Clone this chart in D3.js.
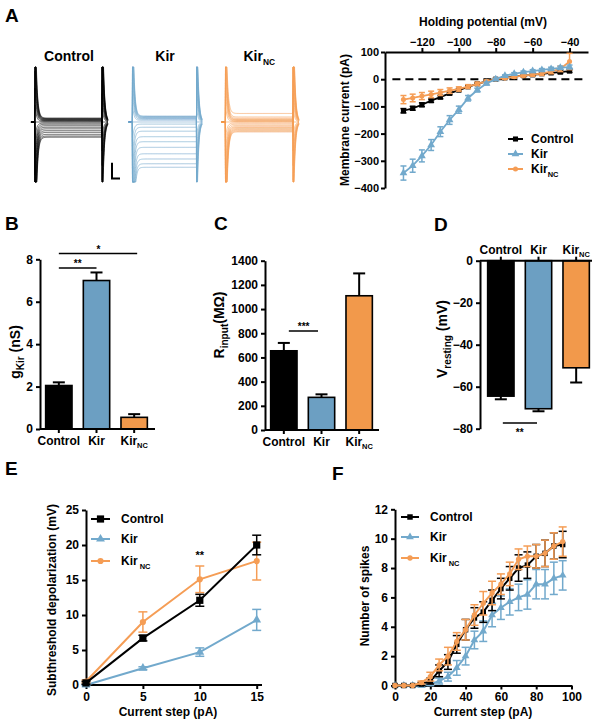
<!DOCTYPE html>
<html><head><meta charset="utf-8">
<script src="https://cdn.jsdelivr.net/npm/d3@7"></script>
<style>
body{margin:0;background:#fff}
svg{display:block;font-family:"Liberation Sans",Arial,Helvetica,sans-serif;font-weight:bold}
</style></head><body>
<svg id="fig" width="602" height="727"></svg>
<script>
// ---------------- DATA ----------------
const groups = ["Control", "Kir", "KirNC"];
// Panel A: I-V
const ivVoltage = [-130,-125,-120,-115,-110,-105,-100,-95,-90,-85,-80,-75,-70,-65,-60,-55,-50,-45,-40];
const ivControl    = [-116,-107,-94,-79,-66,-52,-40,-28,-17,-8,0,5,10,13,16,20,23,26,30];
const ivControlErr = [8,7,7,6,6,5,5,4,4,3,3,3,3,3,4,4,4,5,5];
const ivKir        = [-345,-318,-282,-242,-193,-150,-112,-70,-40,-16,0,13,20,26,30,34,38,42,45];
const ivKirErr     = [26,24,22,20,18,16,13,10,7,5,3,3,4,4,5,5,6,6,7];
const ivKirNC      = [-75,-69,-62,-56,-49,-42,-36,-27,-17,-8,0,4,9,13,17,21,28,38,65];
const ivKirNCErr   = [15,14,13,12,11,10,8,7,6,5,4,4,5,5,6,7,8,10,30];
const ivTicksX = [-120,-100,-80,-60,-40];
const ivTicksY = [100,0,-100,-200,-300,-400];
const holdingPotential = -80;
// Panel B
const gKir    = [2.05, 7.0, 0.55];
const gKirErr = [0.15, 0.38, 0.15];
const gTicks  = [0,2,4,6,8];
// Panel C
const rInput    = [655, 270, 1110];
const rInputErr = [65, 25, 185];
const rTicks    = [0,200,400,600,800,1000,1200,1400];
// Panel D
const vRest    = [-64.5, -70.5, -51];
const vRestErr = [1.5, 1.2, 7];
const vTicks   = [0,-20,-40,-60,-80];
// Panel E
const eSteps      = [0,5,10,15];
const eControl    = [0.3, 6.7, 12.1, 20.0];
const eControlErr = [0.2, 0.4, 0.85, 1.4];
const eKir        = [0.0, 2.4, 4.7, 9.3];
const eKirErr     = [0.1, 0.2, 0.6, 1.5];
const eKirNC      = [0.5, 9.0, 15.1, 17.7];
const eKirNCErr   = [0.2, 1.45, 1.9, 2.7];
const eTicksX = [0,5,10,15];
const eTicksY = [0,5,10,15,20,25];
// Panel F
const fSteps      = [0,5,10,15,20,25,30,35,40,45,50,55,60,65,70,75,80,85,90,95];
const fControl    = [0,0,0,0.1,0.3,1.0,1.6,2.8,3.8,4.6,5.0,5.8,6.6,7.3,8.0,8.2,8.8,9.0,9.5,9.6];
const fControlErr = [0,0,0,0.1,0.2,0.4,0.5,0.6,0.7,0.7,0.7,0.7,0.7,0.8,0.9,0.9,0.8,0.9,0.9,0.9];
const fKir        = [0,0,0,0,0.1,0.3,0.6,1.2,2.0,3.1,3.7,4.8,5.3,5.7,6.0,6.2,6.9,6.9,7.3,7.5];
const fKirErr     = [0,0,0,0.1,0.1,0.2,0.3,0.5,0.6,0.6,0.7,0.8,0.8,0.9,0.9,1.0,1.0,1.0,1.1,1.0];
const fKirNC      = [0,0,0,0.2,0.6,1.4,2.0,3.0,3.8,4.8,5.6,6.3,6.9,7.6,8.6,8.8,8.8,9.0,9.5,9.8];
const fKirNCErr   = [0,0,0,0.1,0.3,0.4,0.6,0.6,0.7,0.7,0.8,0.8,0.7,0.8,0.7,0.7,0.8,0.9,0.9,1.0];
const fTicksX = [0,20,40,60,80,100];
const fTicksY = [0,2,4,6,8,10,12];

// ---------------- STYLE ----------------
const FONT = '"Liberation Sans", Arial, Helvetica, sans-serif';
const C_BLACK = "#000000", C_BLUE = "#6c9fc2", C_ORANGE = "#f2994b";
const C_BLUE_L = "#72a9cc", C_ORANGE_L = "#f59d55";
const colors = {Control: C_BLACK, Kir: C_BLUE, KirNC: C_ORANGE};
const fmtInt = d3.format("d");

const svg = d3.select("#fig");

function styleAxis(g, fs) {
  g.attr("font-family", FONT).attr("font-size", fs).attr("font-weight", "bold");
  g.select(".domain").attr("stroke", "#000").attr("stroke-width", 2);
  g.selectAll(".tick line").attr("stroke", "#000").attr("stroke-width", 2);
  g.selectAll(".tick text").attr("fill", "#000");
}
function richText(parent, x, y, parts, o = {}) {
  const size = o.size || 12, sub = o.subScale || 0.68;
  const t = parent.append("text").attr("font-size", size).attr("font-weight", "bold")
    .attr("text-anchor", o.anchor || "middle").attr("fill", "#000").attr("font-family", FONT);
  if (o.rotate) t.attr("transform", `translate(${x},${y}) rotate(-90)`);
  else t.attr("x", x).attr("y", y);
  let down = false;
  parts.forEach(([s, isSub]) => {
    const ts = t.append("tspan").text(s);
    if (isSub) { ts.attr("font-size", size * sub); if (!down) { ts.attr("dy", size * 0.32); down = true; } }
    else if (down) { ts.attr("dy", -size * 0.32); down = false; }
  });
  return t;
}
function subTick(g) {
  g.selectAll(".tick text").filter(d => d === "KirNC").each(function() {
    const t = d3.select(this); const fs = parseFloat(g.attr("font-size"));
    t.text(null);
    t.append("tspan").text("Kir");
    t.append("tspan").text("NC").attr("font-size", fs * 0.62).attr("dy", fs * 0.3);
  });
}
function panelLetter(x, y, s) {
  svg.append("text").attr("x", x).attr("y", y).attr("font-size", 19).attr("font-weight", "bold")
    .attr("font-family", FONT).text(s);
}
function errorBars(g, xs, ys, es, xS, yS, color, capW, sw) {
  const gg = g.append("g").attr("stroke", color).attr("stroke-width", sw);
  xs.forEach((xv, i) => {
    if (!es[i]) return;
    const x = xS(xv), y1 = yS(ys[i] - es[i]), y2 = yS(ys[i] + es[i]);
    gg.append("line").attr("x1", x).attr("x2", x).attr("y1", y1).attr("y2", y2);
    gg.append("line").attr("x1", x - capW/2).attr("x2", x + capW/2).attr("y1", y1).attr("y2", y1);
    gg.append("line").attr("x1", x - capW/2).attr("x2", x + capW/2).attr("y1", y2).attr("y2", y2);
  });
}
const symType = {Control: d3.symbolSquare, Kir: d3.symbolTriangle, KirNC: d3.symbolCircle};
function series(g, xs, ys, es, xS, yS, name, o) {
  const color = o.color;
  errorBars(g, xs, ys, es, xS, yS, color, o.capW, o.ebw || 1.5);
  g.append("path").datum(xs.map((x, i) => [x, ys[i]]))
    .attr("fill", "none").attr("stroke", color).attr("stroke-width", o.lw || 2)
    .attr("d", d3.line().x(d => xS(d[0])).y(d => yS(d[1])));
  g.append("g").selectAll("path").data(xs.map((x, i) => [x, ys[i]])).join("path")
    .attr("transform", d => `translate(${xS(d[0])},${yS(d[1])})`)
    .attr("d", d3.symbol(symType[name], o.sizes[name]))
    .attr("fill", color);
}
function legend(g, x0, x1, tx, ys, entries, o) {
  entries.forEach((e, i) => {
    const y = ys[i];
    g.append("line").attr("x1", x0).attr("x2", x1).attr("y1", y).attr("y2", y)
      .attr("stroke", e.color).attr("stroke-width", o.lw || 2);
    g.append("path").attr("transform", `translate(${(x0+x1)/2},${y})`)
      .attr("d", d3.symbol(symType[e.name], o.sizes[e.name])).attr("fill", e.color);
    const parts = e.name === "KirNC" ? [["Kir", false], [o.gap ? " NC" : "NC", true]] : [[e.name, false]];
    richText(g, tx, y + 4.2, parts, {size: o.fs || 12, anchor: "start", subScale: 0.62});
  });
}

// ---------------- PANEL A: traces ----------------
panelLetter(5, 22, "A");
const yTrace = d3.scaleLinear().domain([0, -400]).range([122, 174.5]);
const traceT = d3.range(-30, 545, 1.5); // sampling times (ms) for drawing each trace
const stepDur = 500, tau = 11, capGain = 25;
const traceDefs = [
  {name: "Control", iv: ivControl, x0: 35, x1: 102, color: C_BLACK, label: [["Control", false]]},
  {name: "Kir", iv: ivKir, x0: 132.5, x1: 196.5, color: C_BLUE_L, label: [["Kir", false]]},
  {name: "KirNC", iv: ivKirNC, x0: 225.5, x1: 293, color: C_ORANGE_L, label: [["Kir", false], ["NC", true]]}
];
traceDefs.forEach(td => {
  const xT = d3.scaleLinear().domain([0, stepDur]).range([td.x0, td.x1]);
  const g = svg.append("g");
  ivVoltage.forEach((v, i) => {
    const ss = td.iv[i], A = (v - holdingPotential) * capGain;
    const pts = traceT.map(t => {
      let I;
      if (t < 0) I = 0;
      else if (t < stepDur) I = ss + A * Math.exp(-t / tau);
      else I = -A * Math.exp(-(t - stepDur) / tau) + ss * Math.exp(-(t - stepDur) / 6);
      return [xT(t), Math.max(67, Math.min(182, yTrace(I)))];
    });
    g.append("path").attr("d", d3.line()(pts)).attr("fill", "none")
      .attr("stroke", td.color).attr("stroke-width", 0.7).attr("stroke-opacity", 0.9);
  });
  const cx = (td.x0 + td.x1) / 2 + 0.5;
  richText(svg, td.name === "KirNC" ? td.x0 + 18 : cx, 61, td.label,
    {size: 14, anchor: td.name === "KirNC" ? "start" : "middle", subScale: 0.6});
});
// scale bar
svg.append("path").attr("d", `M112,${yTrace(-310)}V${yTrace(-430)}H120`)
  .attr("fill", "none").attr("stroke", "#000").attr("stroke-width", 2);

// ---------------- PANEL A: I-V ----------------
{
  const xS = d3.scaleLinear().domain([-140, -30]).range([385, 588]);
  const yS = d3.scaleLinear().domain([-400, 100]).range([188, 52]);
  const g = svg.append("g");
  g.append("line").attr("x1", xS(-136)).attr("x2", xS(-30.5)).attr("y1", yS(0)).attr("y2", yS(0))
    .attr("stroke", "#000").attr("stroke-width", 2).attr("stroke-dasharray", "8,5");
  const ax = g.append("g").attr("transform", "translate(0,52)")
    .call(d3.axisTop(xS).tickValues(ivTicksX).tickSize(4).tickSizeOuter(0).tickPadding(2).tickFormat(fmtInt));
  styleAxis(ax, 11);
  const ay = g.append("g").attr("transform", "translate(385,0)")
    .call(d3.axisLeft(yS).tickValues(ivTicksY).tickSize(4).tickSizeOuter(0).tickPadding(2).tickFormat(fmtInt));
  styleAxis(ay, 11);
  const sizes = {Control: 26, Kir: 26, KirNC: 20};
  series(g, ivVoltage, ivControl, ivControlErr, xS, yS, "Control", {color: C_BLACK, capW: 6, sizes, lw: 1.8});
  series(g, ivVoltage, ivKirNC, ivKirNCErr, xS, yS, "KirNC", {color: C_ORANGE_L, capW: 6, sizes, lw: 1.8});
  series(g, ivVoltage, ivKir, ivKirErr, xS, yS, "Kir", {color: C_BLUE_L, capW: 6, sizes, lw: 1.8});
  richText(g, 483, 26, [["Holding potential (mV)", false]], {size: 12});
  richText(g, 349, 120, [["Membrane current (pA)", false]], {size: 12, rotate: true});
  legend(g, 508, 523, 531, [139, 154, 169],
    [{name: "Control", color: C_BLACK}, {name: "Kir", color: C_BLUE_L}, {name: "KirNC", color: C_ORANGE_L}],
    {sizes, fs: 12});
}

// ---------------- Bar panels ----------------
function barPanel(o) {
  const g = svg.append("g");
  const xS = d3.scaleBand().domain(groups).range(o.xr).paddingInner(0.3).paddingOuter(0.15);
  const yS = d3.scaleLinear().domain(o.yd).range(o.yr);
  const y0 = yS(0);
  groups.forEach((k, i) => {
    const v = o.vals[i], e = o.errs[i], x = xS(k) + xS.bandwidth() / 2;
    const yv = yS(v), ye = yS(v + Math.sign(v) * e);
    g.append("line").attr("x1", x).attr("x2", x).attr("y1", yv).attr("y2", ye).attr("stroke", "#000").attr("stroke-width", 2);
    g.append("line").attr("x1", x - 6).attr("x2", x + 6).attr("y1", ye).attr("y2", ye).attr("stroke", "#000").attr("stroke-width", 2);
  });
  g.selectAll("rect").data(groups).join("rect")
    .attr("x", d => xS(d)).attr("width", xS.bandwidth())
    .attr("y", (d, i) => Math.min(y0, yS(o.vals[i])))
    .attr("height", (d, i) => Math.abs(yS(o.vals[i]) - y0))
    .attr("fill", d => colors[d]).attr("stroke", "#000").attr("stroke-width", 1.6);
  const ay = g.append("g").attr("transform", `translate(${o.xr[0] - (o.yAxisShift || 0)},0)`)
    .call(d3.axisLeft(yS).tickValues(o.ticks).tickSize(4).tickSizeOuter(0).tickPadding(3).tickFormat(fmtInt));
  styleAxis(ay, 12);
  const axisFn = o.top ? d3.axisTop(xS) : d3.axisBottom(xS);
  const ax = g.append("g").attr("transform", `translate(0,${y0})`)
    .call(axisFn.tickSize(4).tickSizeOuter(0).tickPadding(3));
  styleAxis(ax, 12);
  ax.select(".domain").attr("d", `M${o.xr[0] - (o.yAxisShift || 0)},0H${o.xEnd}`);
  subTick(ax);
  return {g, xS, yS};
}

// Panel B
panelLetter(5, 230, "B");
{
  const {g, xS, yS} = barPanel({xr: [40, 153], xEnd: 155, yd: [0, 8], yr: [429, 259.3], vals: gKir, errs: gKirErr, ticks: gTicks});
  const cx = k => xS(k) + xS.bandwidth() / 2;
  g.append("line").attr("x1", cx("Control")).attr("x2", cx("Kir")).attr("y1", 268).attr("y2", 268).attr("stroke", "#000").attr("stroke-width", 1.5);
  g.append("line").attr("x1", cx("Control")).attr("x2", cx("KirNC") + 3).attr("y1", 253.5).attr("y2", 253.5).attr("stroke", "#000").attr("stroke-width", 1.5);
  g.append("text").attr("x", (cx("Control") + cx("Kir")) / 2).attr("y", 267).attr("text-anchor", "middle").attr("font-size", 10).attr("font-family", FONT).text("**");
  g.append("text").attr("x", (cx("Control") + cx("KirNC")) / 2 + 2).attr("y", 252.5).attr("text-anchor", "middle").attr("font-size", 10).attr("font-family", FONT).text("*");
  richText(svg, 20, 352, [["g", false], ["Kir", true], [" (nS)", false]], {size: 14, rotate: true, subScale: 0.72});
}

// Panel C
panelLetter(214, 230, "C");
{
  const {g, xS, yS} = barPanel({xr: [265, 378], xEnd: 379, yd: [0, 1400], yr: [430, 260.7], vals: rInput, errs: rInputErr, ticks: rTicks});
  const cx = k => xS(k) + xS.bandwidth() / 2;
  g.append("line").attr("x1", cx("Control") + 5).attr("x2", cx("Kir") - 3.5).attr("y1", 331).attr("y2", 331).attr("stroke", "#000").attr("stroke-width", 1.5);
  g.append("text").attr("x", (cx("Control") + cx("Kir")) / 2 + 1).attr("y", 330).attr("text-anchor", "middle").attr("font-size", 10).attr("font-family", FONT).text("***");
  richText(svg, 224, 325, [["R", false], ["input", true], ["(MΩ)", false]], {size: 14, rotate: true, subScale: 0.72});
}

// Panel D
panelLetter(434, 231, "D");
{
  const {g, xS, yS} = barPanel({xr: [482, 595], xEnd: 592, yAxisShift: 2, yd: [-80, 0], yr: [428.7, 260.7], vals: vRest, errs: vRestErr, ticks: vTicks, top: true});
  const cx = k => xS(k) + xS.bandwidth() / 2;
  g.append("line").attr("x1", cx("Control") + 2).attr("x2", cx("Kir") - 1.5).attr("y1", 423).attr("y2", 423).attr("stroke", "#000").attr("stroke-width", 1.5);
  g.append("text").attr("x", (cx("Control") + cx("Kir")) / 2).attr("y", 436).attr("text-anchor", "middle").attr("font-size", 10).attr("font-family", FONT).text("**");
  richText(svg, 447, 339, [["V", false], ["resting", true], [" (mV)", false]], {size: 14, rotate: true, subScale: 0.72});
}

// ---------------- PANEL E ----------------
panelLetter(5, 475, "E");
{
  const g = svg.append("g");
  const xS = d3.scaleLinear().domain([0, 15]).range([86, 256.7]);
  const yS = d3.scaleLinear().domain([0, 25]).range([685, 510]);
  const ax = g.append("g").attr("transform", "translate(0,685)")
    .call(d3.axisBottom(xS).tickValues(eTicksX).tickSize(4).tickSizeOuter(0).tickPadding(3).tickFormat(fmtInt));
  styleAxis(ax, 12);
  ax.select(".domain").attr("d", "M86,0H262");
  const ay = g.append("g").attr("transform", "translate(86,0)")
    .call(d3.axisLeft(yS).tickValues(eTicksY).tickSize(4).tickSizeOuter(0).tickPadding(3).tickFormat(fmtInt));
  styleAxis(ay, 12);
  const sizes = {Control: 52, Kir: 34, KirNC: 30};
  series(g, eSteps, eKir, eKirErr, xS, yS, "Kir", {color: C_BLUE_L, capW: 9, sizes, lw: 2});
  series(g, eSteps, eKirNC, eKirNCErr, xS, yS, "KirNC", {color: C_ORANGE_L, capW: 9, sizes, lw: 2});
  series(g, eSteps, eControl, eControlErr, xS, yS, "Control", {color: C_BLACK, capW: 9, sizes, lw: 2});
  g.append("text").attr("x", xS(10)).attr("y", 559).attr("text-anchor", "middle").attr("font-size", 11).attr("font-family", FONT).text("**");
  legend(g, 91, 110, 121, [519, 539, 561],
    [{name: "Control", color: C_BLACK}, {name: "Kir", color: C_BLUE_L}, {name: "KirNC", color: C_ORANGE_L}],
    {sizes, fs: 12, gap: true});
  richText(g, 56, 600, [["Subthreshold depolarization (mV)", false]], {size: 12, rotate: true});
  richText(g, 168, 716, [["Current step (pA)", false]], {size: 12});
}

// ---------------- PANEL F ----------------
panelLetter(332, 480, "F");
{
  const g = svg.append("g");
  const xS = d3.scaleLinear().domain([0, 100]).range([395, 571.5]);
  const yS = d3.scaleLinear().domain([0, 12]).range([685.5, 509.3]);
  const ax = g.append("g").attr("transform", "translate(0,685.5)")
    .call(d3.axisBottom(xS).tickValues(fTicksX).tickSize(4).tickSizeOuter(0).tickPadding(3).tickFormat(fmtInt));
  styleAxis(ax, 12);
  const ay = g.append("g").attr("transform", "translate(395,0)")
    .call(d3.axisLeft(yS).tickValues(fTicksY).tickSize(4).tickSizeOuter(0).tickPadding(3).tickFormat(fmtInt));
  styleAxis(ay, 12);
  const sizes = {Control: 30, Kir: 26, KirNC: 22};
  series(g, fSteps, fKir, fKirErr, xS, yS, "Kir", {color: C_BLUE_L, capW: 8, sizes, lw: 2});
  series(g, fSteps, fControl, fControlErr, xS, yS, "Control", {color: C_BLACK, capW: 8, sizes, lw: 2});
  series(g, fSteps, fKirNC, fKirNCErr, xS, yS, "KirNC", {color: C_ORANGE_L, capW: 8, sizes, lw: 2});
  legend(g, 401, 419, 430, [517, 537, 558],
    [{name: "Control", color: C_BLACK}, {name: "Kir", color: C_BLUE_L}, {name: "KirNC", color: C_ORANGE_L}],
    {sizes, fs: 12, gap: true});
  richText(g, 369, 596, [["Number of spikes", false]], {size: 12, rotate: true});
  richText(g, 483, 716, [["Current step (pA)", false]], {size: 12});
}
</script>
</body></html>
